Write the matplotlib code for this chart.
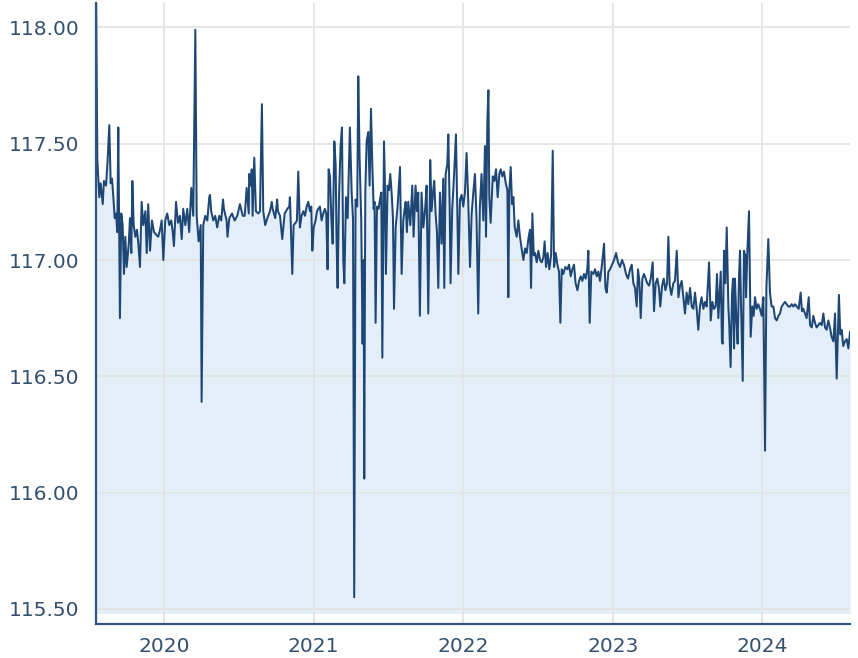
import numpy as np
import matplotlib
matplotlib.use("Agg")
import matplotlib.pyplot as plt

# ---- data (decimal year, value) ----
t_2019 = [2019.545, 2019.554, 2019.567, 2019.576, 2019.590, 2019.598, 2019.612, 2019.621, 2019.634, 2019.643,
          2019.652, 2019.661, 2019.670, 2019.679, 2019.687, 2019.694, 2019.705, 2019.714, 2019.723, 2019.732,
          2019.741, 2019.750, 2019.764, 2019.772, 2019.781, 2019.788, 2019.797, 2019.808, 2019.819, 2019.828,
          2019.839, 2019.850, 2019.861, 2019.875, 2019.884, 2019.894, 2019.906, 2019.919, 2019.933, 2019.946,
          2019.961, 2019.973, 2019.984, 2019.995]
v_2019 = [118.20, 117.43, 117.27, 117.33, 117.24, 117.34, 117.32, 117.41, 117.58, 117.33,
          117.35, 117.27, 117.18, 117.20, 117.12, 117.57, 116.75, 117.20, 117.15, 116.94,
          117.10, 116.97, 117.07, 117.18, 117.03, 117.34, 117.15, 117.10, 117.13, 117.07,
          116.97, 117.25, 117.15, 117.21, 117.03, 117.24, 117.04, 117.17, 117.12, 117.11,
          117.10, 117.13, 117.17, 117.00]

t_2020 = [2020.008, 2020.021, 2020.035, 2020.048, 2020.058, 2020.066, 2020.080, 2020.093, 2020.106, 2020.118,
          2020.128, 2020.142, 2020.155, 2020.168, 2020.182, 2020.195, 2020.209, 2020.218, 2020.231, 2020.245,
          2020.251, 2020.262, 2020.275, 2020.289, 2020.302, 2020.315, 2020.329, 2020.342, 2020.355, 2020.369,
          2020.382, 2020.400, 2020.418, 2020.436, 2020.454, 2020.472, 2020.489, 2020.507, 2020.526, 2020.539,
          2020.552, 2020.566, 2020.579, 2020.592, 2020.603, 2020.614, 2020.630, 2020.641, 2020.654, 2020.663,
          2020.676, 2020.690, 2020.708, 2020.726, 2020.743, 2020.761, 2020.775, 2020.790, 2020.806, 2020.824,
          2020.837, 2020.844, 2020.857, 2020.866, 2020.879, 2020.888, 2020.897, 2020.908, 2020.919, 2020.931,
          2020.942, 2020.953, 2020.964, 2020.975, 2020.984, 2020.991,
          2020.307, 2020.394, 2020.424, 2020.569, 2020.586, 2020.720, 2020.756, 2020.841]
v_2020 = [117.17, 117.20, 117.15, 117.17, 117.12, 117.06, 117.25, 117.16, 117.19, 117.09,
          117.22, 117.15, 117.22, 117.12, 117.31, 117.19, 117.99, 117.19, 117.08, 117.15,
          116.39, 117.15, 117.19, 117.17, 117.27, 117.21, 117.17, 117.19, 117.14, 117.19,
          117.17, 117.22, 117.17, 117.18, 117.20, 117.17, 117.19, 117.24, 117.19, 117.19,
          117.31, 117.20, 117.32, 117.19, 117.44, 117.21, 117.20, 117.21, 117.67, 117.21,
          117.15, 117.18, 117.21, 117.22, 117.18, 117.21, 117.19, 117.09, 117.20, 117.22,
          117.23, 117.22, 116.94, 117.15, 117.16, 117.17, 117.38, 117.14, 117.19, 117.21,
          117.19, 117.23, 117.25, 117.21, 117.23, 117.04,
          117.28, 117.26, 117.10, 117.37, 117.39, 117.25, 117.26, 117.27]

t_2021 = [2021.000, 2021.013, 2021.022, 2021.031, 2021.042, 2021.053, 2021.064, 2021.075, 2021.084, 2021.093,
          2021.100, 2021.109, 2021.118, 2021.127, 2021.138, 2021.147, 2021.153, 2021.160, 2021.169, 2021.180,
          2021.189, 2021.198, 2021.205, 2021.216, 2021.227, 2021.242, 2021.254, 2021.263, 2021.271, 2021.280,
          2021.291, 2021.298, 2021.307, 2021.318, 2021.327, 2021.334, 2021.338, 2021.345, 2021.354, 2021.365,
          2021.374, 2021.383, 2021.392, 2021.401, 2021.407, 2021.414, 2021.423, 2021.434, 2021.443, 2021.452,
          2021.459, 2021.470, 2021.476, 2021.483, 2021.494, 2021.503, 2021.512, 2021.521, 2021.530, 2021.537,
          2021.548, 2021.561, 2021.577, 2021.588, 2021.599, 2021.606, 2021.615, 2021.623, 2021.632, 2021.646,
          2021.659, 2021.668, 2021.681, 2021.690, 2021.699, 2021.710, 2021.721, 2021.733, 2021.744, 2021.755,
          2021.766, 2021.779, 2021.788, 2021.799, 2021.806, 2021.815, 2021.824, 2021.833, 2021.844, 2021.855,
          2021.866, 2021.873, 2021.882, 2021.893, 2021.900, 2021.909, 2021.915, 2021.926, 2021.938, 2021.951,
          2021.960, 2021.967, 2021.978, 2021.989]
v_2021 = [117.14, 117.17, 117.21, 117.22, 117.23, 117.17, 117.20, 117.22, 117.20, 116.96,
          117.39, 117.36, 117.18, 117.07, 117.51, 117.41, 117.08, 116.88, 117.27, 117.49,
          117.57, 117.00, 116.90, 117.27, 117.18, 117.57, 117.29, 117.18, 115.55, 117.26,
          117.23, 117.79, 117.44, 117.17, 116.64, 117.00, 116.06, 117.29, 117.51, 117.55,
          117.32, 117.65, 117.41, 117.22, 117.25, 116.73, 117.23, 117.22, 117.26, 117.29,
          116.58, 117.51, 117.34, 116.94, 117.32, 117.30, 117.37, 117.29, 117.18, 116.79,
          117.14, 117.23, 117.40, 116.94, 117.17, 117.21, 117.25, 117.12, 117.25, 117.15,
          117.32, 117.10, 117.32, 117.21, 117.29, 116.76, 117.29, 117.14, 117.21, 117.32,
          116.77, 117.43, 117.21, 117.30, 117.34, 117.20, 117.12, 116.88, 117.29, 117.07,
          117.35, 116.88, 117.37, 117.41, 117.54, 117.23, 116.90, 117.22, 117.36, 117.54,
          117.22, 116.94, 117.26, 117.28]

t_2022 = [2022.000, 2022.011, 2022.022, 2022.033, 2022.045, 2022.056, 2022.067, 2022.078, 2022.089, 2022.100,
          2022.111, 2022.122, 2022.134, 2022.145, 2022.152, 2022.161, 2022.168, 2022.174, 2022.183, 2022.197,
          2022.208, 2022.219, 2022.230, 2022.241, 2022.250, 2022.261, 2022.272, 2022.284, 2022.295, 2022.301,
          2022.308, 2022.317, 2022.326, 2022.335, 2022.344, 2022.357, 2022.368, 2022.379, 2022.390, 2022.402,
          2022.413, 2022.424, 2022.437, 2022.446, 2022.453, 2022.462, 2022.471, 2022.480, 2022.491, 2022.502,
          2022.513, 2022.524, 2022.535, 2022.544, 2022.553, 2022.564, 2022.575, 2022.587, 2022.598, 2022.607,
          2022.618, 2022.629, 2022.640, 2022.649, 2022.658, 2022.669, 2022.682, 2022.696, 2022.707, 2022.718,
          2022.729, 2022.740, 2022.751, 2022.763, 2022.774, 2022.785, 2022.796, 2022.807, 2022.818, 2022.829,
          2022.836, 2022.845, 2022.856, 2022.870, 2022.881, 2022.892, 2022.903, 2022.914, 2022.927, 2022.941,
          2022.950, 2022.959, 2022.970, 2022.981, 2022.994]
v_2022 = [117.23, 117.29, 117.46, 117.26, 116.97, 117.20, 117.29, 117.37, 117.17, 116.77,
          117.23, 117.37, 117.17, 117.49, 117.10, 117.60, 117.73, 117.27, 117.16, 117.36,
          117.34, 117.39, 117.27, 117.37, 117.39, 117.36, 117.38, 117.33, 117.30, 116.84,
          117.30, 117.40, 117.24, 117.27, 117.14, 117.10, 117.17, 117.10, 117.05, 117.00,
          117.05, 117.03, 117.10, 117.13, 116.88, 117.20, 117.02, 117.03, 116.99, 117.04,
          117.00, 116.99, 117.01, 117.08, 116.97, 117.03, 116.96, 117.02, 117.47, 116.97,
          117.03, 116.98, 116.95, 116.73, 116.96, 116.94, 116.97, 116.96, 116.98, 116.93,
          116.96, 116.98, 116.90, 116.87, 116.91, 116.93, 116.91, 116.94, 116.92, 116.96,
          117.04, 116.73, 116.95, 116.94, 116.96, 116.93, 116.95, 116.91, 116.98, 117.07,
          116.88, 116.86, 116.95, 116.96, 116.98]

t_2023 = [2023.008, 2023.021, 2023.034, 2023.048, 2023.061, 2023.074, 2023.088, 2023.101, 2023.115, 2023.126,
          2023.137, 2023.148, 2023.159, 2023.168, 2023.177, 2023.186, 2023.197, 2023.208, 2023.219, 2023.230,
          2023.242, 2023.253, 2023.266, 2023.275, 2023.286, 2023.297, 2023.308, 2023.317, 2023.329, 2023.340,
          2023.351, 2023.362, 2023.371, 2023.380, 2023.391, 2023.404, 2023.415, 2023.427, 2023.438, 2023.449,
          2023.460, 2023.471, 2023.482, 2023.493, 2023.504, 2023.516, 2023.527, 2023.538, 2023.549, 2023.560,
          2023.571, 2023.582, 2023.593, 2023.605, 2023.616, 2023.627, 2023.643, 2023.654, 2023.665, 2023.676,
          2023.687, 2023.696, 2023.705, 2023.712, 2023.721, 2023.729, 2023.734, 2023.743, 2023.752, 2023.761,
          2023.772, 2023.778, 2023.787, 2023.796, 2023.803, 2023.810, 2023.816, 2023.825, 2023.834, 2023.843,
          2023.850, 2023.856, 2023.868, 2023.876, 2023.885, 2023.890, 2023.899, 2023.910, 2023.921, 2023.932,
          2023.941, 2023.950, 2023.961, 2023.972, 2023.983, 2023.995]
v_2023 = [117.00, 117.03, 116.99, 116.97, 117.00, 116.98, 116.94, 116.92, 116.96, 116.98,
          116.90, 116.88, 116.80, 116.96, 116.91, 116.75, 116.92, 116.94, 116.92, 116.90,
          116.89, 116.92, 116.99, 116.78, 116.90, 116.92, 116.88, 116.80, 116.89, 116.92,
          116.87, 116.90, 117.10, 116.89, 116.85, 116.90, 116.91, 117.04, 116.84, 116.89,
          116.91, 116.84, 116.77, 116.86, 116.81, 116.88, 116.80, 116.79, 116.86, 116.79,
          116.70, 116.80, 116.84, 116.79, 116.82, 116.80, 116.99, 116.74, 116.82, 116.79,
          116.80, 116.94, 116.75, 116.84, 116.95, 116.65, 116.64, 117.04, 116.90, 117.14,
          116.80, 116.72, 116.54, 116.85, 116.92, 116.62, 116.92, 116.75, 116.64, 116.93,
          117.04, 116.82, 116.48, 117.04, 117.02, 116.84, 117.04, 117.21, 116.67, 116.80,
          116.76, 116.84, 116.79, 116.81, 116.79, 116.76]

t_2024 = [2024.006, 2024.017, 2024.026, 2024.039, 2024.050, 2024.061, 2024.073, 2024.084, 2024.095, 2024.106,
          2024.117, 2024.128, 2024.139, 2024.151, 2024.162, 2024.173, 2024.184, 2024.195, 2024.206, 2024.217,
          2024.229, 2024.242, 2024.255, 2024.264, 2024.273, 2024.284, 2024.295, 2024.309, 2024.318, 2024.329,
          2024.340, 2024.351, 2024.362, 2024.373, 2024.384, 2024.396, 2024.407, 2024.418, 2024.429, 2024.440,
          2024.451, 2024.462, 2024.474, 2024.485, 2024.496, 2024.505, 2024.511, 2024.520, 2024.529, 2024.540,
          2024.551, 2024.563, 2024.574, 2024.585]
v_2024 = [116.84, 116.18, 116.88, 117.09, 116.86, 116.80, 116.80, 116.75, 116.74, 116.76,
          116.77, 116.80, 116.81, 116.82, 116.81, 116.80, 116.80, 116.81, 116.80, 116.81,
          116.80, 116.79, 116.86, 116.78, 116.79, 116.77, 116.75, 116.84, 116.72, 116.71,
          116.76, 116.73, 116.71, 116.72, 116.73, 116.72, 116.77, 116.71, 116.70, 116.74,
          116.71, 116.67, 116.65, 116.77, 116.49, 116.70, 116.85, 116.68, 116.70, 116.63,
          116.65, 116.66, 116.62, 116.69]

year_ticks = [2020, 2021, 2022, 2023, 2024]
year_labels = ["2020", "2021", "2022", "2023", "2024"]
y_ticks = [115.5, 116.0, 116.5, 117.0, 117.5, 118.0]

t = np.array(t_2019 + t_2020 + t_2021 + t_2022 + t_2023 + t_2024)
v = np.array(v_2019 + v_2020 + v_2021 + v_2022 + v_2023 + v_2024)
order = np.argsort(t, kind="stable")
t, v = t[order], v[order]

# ---- figure ----
fig = plt.figure(figsize=(8.58, 6.58), dpi=100)
ax = fig.add_axes([96 / 858, 1 - 624 / 658, (850 - 96) / 858, (624 - 3) / 658])

line_color = "#0c386a"
fill_color = "#e3eef9"
text_color = "#34506f"
spine_color = "#2f5480"

ax.fill_between(t, v, 115.48, color=fill_color, lw=0, zorder=0.3)
ax.plot(t, v, color=line_color, lw=1.45, alpha=0.92, zorder=2)

ax.set_xlim(2019.545, 2024.585)
ax.set_ylim(115.435, 118.105)

ax.set_xticks(year_ticks)
ax.set_xticklabels(year_labels)
ax.set_yticks(y_ticks)
ax.set_yticklabels([f"{y:.2f}" for y in y_ticks])

ax.set_axisbelow(True)
ax.grid(True, color="#e4e4e4", lw=1.3)
ax.tick_params(axis="both", length=0, labelsize=14.5, colors=text_color)
ax.tick_params(axis="y", pad=12)
ax.tick_params(axis="x", pad=9)

for s in ["top", "right"]:
    ax.spines[s].set_visible(False)
for s in ["left", "bottom"]:
    ax.spines[s].set_color(spine_color)
    ax.spines[s].set_linewidth(1.6)

fig.savefig("out.png", dpi=100)
